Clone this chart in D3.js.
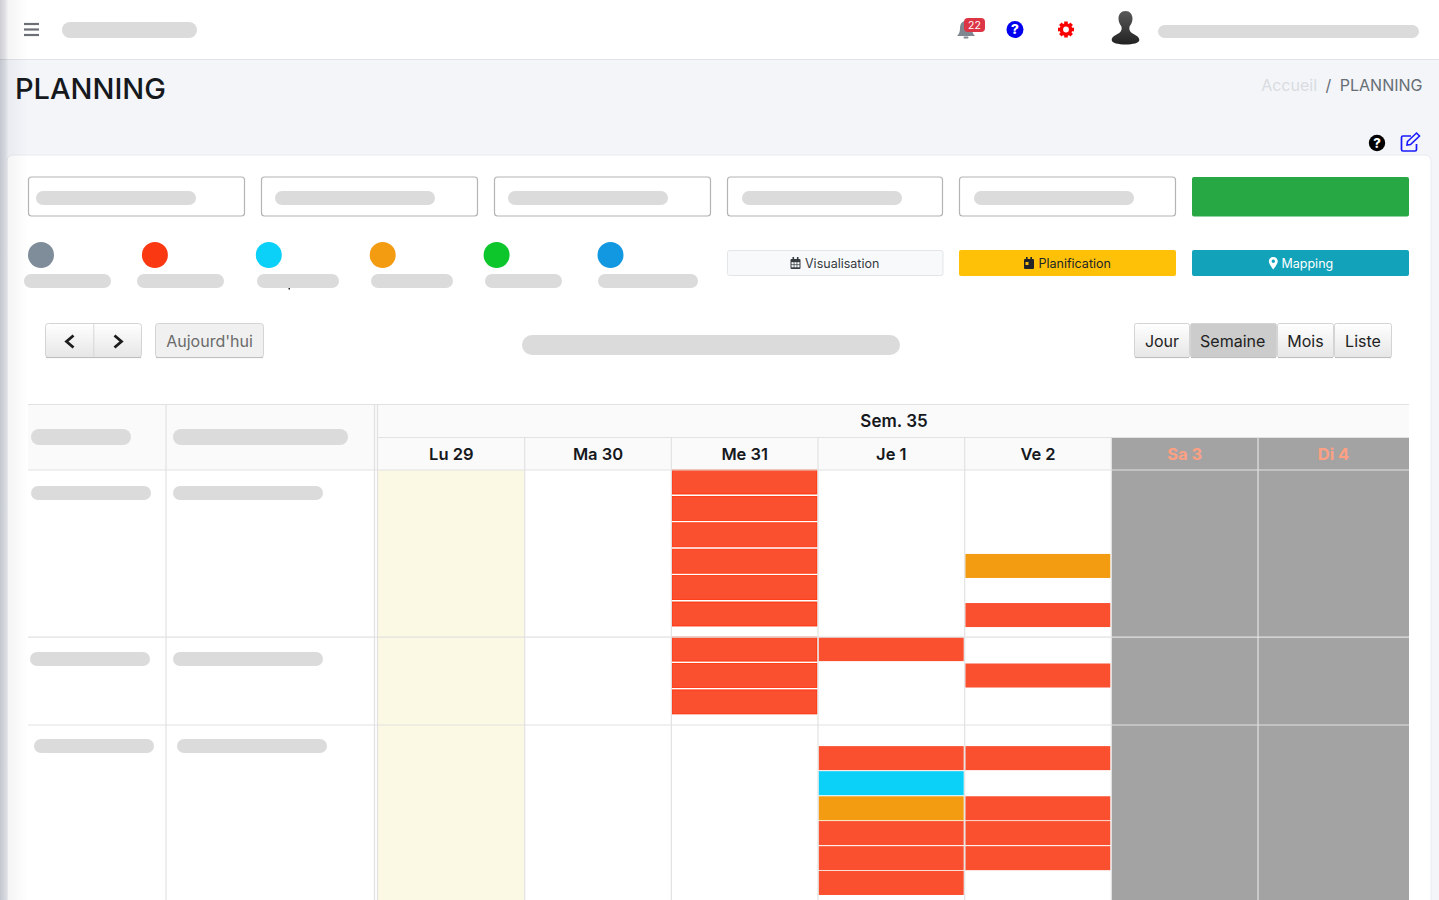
<!DOCTYPE html>
<html lang="fr">
<head>
<meta charset="utf-8">
<title>PLANNING</title>
<script src="https://cdn.jsdelivr.net/npm/d3@7"></script>
<style>
    html, body { margin: 0; padding: 0; background: #f3f5f9; overflow: hidden; }
    svg { display: block; }
    text { font-family: Inter, "Noto Sans", sans-serif; }
</style>
</head>
<body>
<div id="chart-container"></div>
<script>
// Planning data
const days = ['Lu 29', 'Ma 30', 'Me 31', 'Je 1', 'Ve 2', 'Sa 3', 'Di 4'];
const weekendDays = ['Sa 3', 'Di 4'];
const todayDay = 'Lu 29';
const weekLabel = 'Sem. 35';
const rowSizes = [6.33, 3.33, 6.63]; // row height, counted in event lines

const legendColors = ['#7f8c99', '#fa3812', '#0bd0f8', '#f39c12', '#0cc62c', '#1198e0'];
const viewLabels = ['Jour', 'Semaine', 'Mois', 'Liste'];

// [day, row, line]
const redEvents = [
    ['Me 31', 0, 0], ['Me 31', 0, 1], ['Me 31', 0, 2], ['Me 31', 0, 3], ['Me 31', 0, 4], ['Me 31', 0, 5],
    ['Ve 2', 0, 5.04],
    ['Me 31', 1, 0], ['Me 31', 1, 1], ['Me 31', 1, 2],
    ['Je 1', 1, 0], ['Ve 2', 1, 1],
    ['Je 1', 2, 0.8], ['Je 1', 2, 3.64], ['Je 1', 2, 4.59], ['Je 1', 2, 5.53],
    ['Ve 2', 2, 0.8], ['Ve 2', 2, 2.7], ['Ve 2', 2, 3.64], ['Ve 2', 2, 4.59]
];
const orangeEvents = [['Ve 2', 0, 3.18], ['Je 1', 2, 2.7]];
const cyanEvents = [['Je 1', 2, 1.75]];

const W = 1439, H = 900;
const svg = d3.select('#chart-container')
    .append('svg')
    .attr('width', W)
    .attr('height', H);
const defs = svg.append('defs');

// Gradients
function vGradient(id, top, bottom) {
    const g = defs.append('linearGradient').attr('id', id).attr('x2', 0).attr('y2', 1);
    g.append('stop').attr('offset', 0).attr('stop-color', top);
    g.append('stop').attr('offset', 1).attr('stop-color', bottom);
}
vGradient('btn', '#ffffff', '#e6e6e6');
vGradient('avatar', '#5a5a5a', '#222222');
const side = defs.append('linearGradient').attr('id', 'sideShadow');
[[0, 0.24], [0.2, 0.14], [0.3, 0.05], [1, 0]].forEach(s => {
    side.append('stop').attr('offset', s[0]).attr('stop-color', '#30344a').attr('stop-opacity', s[1]);
});

// Small helpers
const rect = (x, y, w, h, fill, r = 0) => svg.append('rect')
    .attr('x', x).attr('y', y).attr('width', w).attr('height', h)
    .attr('rx', r).attr('fill', fill);
const pill = (x0, x1, y0, y1) => rect(x0, y0, x1 - x0, y1 - y0, '#dbdbdb', (y1 - y0) / 2);
const label = (x, y, str, size, fill, anchor = 'middle', weight = 400) => svg.append('text')
    .attr('x', x).attr('y', y).attr('font-size', size).attr('fill', fill)
    .attr('text-anchor', anchor).attr('font-weight', weight).text(str);
const line = (x1, y1, x2, y2, color = '#e2e2e2', w = 1.2) => svg.append('line')
    .attr('x1', x1).attr('y1', y1).attr('x2', x2).attr('y2', y2)
    .attr('stroke', color).attr('stroke-width', w);

function questionIcon(cx, cy, r, color) {
    svg.append('circle').attr('cx', cx).attr('cy', cy).attr('r', r).attr('fill', color);
    label(cx, cy + r * 0.56, '?', r * 1.6, '#fff', 'middle', 800);
}

function gearIcon(cx, cy, color) {
    const g = svg.append('g').attr('transform', `translate(${cx},${cy})`);
    g.selectAll('line').data(d3.range(4)).enter().append('line')
        .attr('y1', -8).attr('y2', 8)
        .attr('stroke', color).attr('stroke-width', 3.6)
        .attr('transform', d => `rotate(${d * 45})`);
    g.append('circle').attr('r', 4.6).attr('fill', '#ffffff').attr('stroke', color).attr('stroke-width', 3.4);
}

function calendarIcon(x, y, color, light) {
    rect(x, y + 2, 10, 10, color, 1);
    rect(x + 2, y, 1.6, 3, color);
    rect(x + 6.4, y, 1.6, 3, color);
    if (light) rect(x + 1.5, y + 5, 3, 3, light);
    else {
        d3.range(3).forEach(i => d3.range(2).forEach(j => {
            rect(x + 1 + i * 2.9, y + 5.2 + j * 2.9, 2.2, 2.2, '#f8f9fa');
        }));
    }
}

// Top bar
rect(0, 0, W, 59, '#ffffff');
line(0, 59.5, W, 59.5, '#dfe2e6', 1);
[24, 29.5, 35].forEach(y => line(24, y, 39, y, '#6c6f75', 2.2));
pill(62, 197, 22, 38);

// Bell with badge
svg.append('path')
    .attr('d', 'M966 21c-4 0-6 3-6 7 0 4-1 6-3 8h18c-2-2-3-4-3-8 0-4-2-7-6-7z')
    .attr('fill', '#7f8790');
rect(963.5, 36.5, 5, 2, '#7f8790', 1);
rect(964, 18, 21, 14, '#dc3545', 4);
label(974.5, 29, '22', 10.5, '#ffffff');

questionIcon(1015, 29.5, 8.5, '#0000ee');
gearIcon(1066, 29.5, '#fb0000');

// Avatar bust
svg.append('path')
    .attr('d', 'M1125.500 11c-4.500 0-7 3.500-7 7.500 0 3 1.200 5.500 2.700 7.500 1 2.500 0.500 5-2 7-3.500 2-7.500 3.500-7.500 7 0 3 6.500 4.500 13.800 4.500s13.800-1.500 13.800-4.500c0-3.500-4-5-7.500-7-2.500-2-3-4.500-2-7 1.500-2 2.700-4.500 2.700-7.500 0-4-2.500-7.500-7-7.500z')
    .attr('fill', 'url(#avatar)');
pill(1158, 1419, 25, 38);

// Page title and breadcrumb
label(15, 99, 'PLANNING', 29, '#15181c', 'start', 500);
label(1317, 90.5, 'Accueil', 16, '#d9dce0', 'end');
label(1328.5, 91, '/', 16, '#666d75');
label(1422.5, 90.5, 'PLANNING', 16, '#666d75', 'end');

questionIcon(1377, 143, 8.2, '#000000');
svg.append('path')
    .attr('d', 'M1416.500 144v5.500a1.500 1.500 0 0 1-1.500 1.500h-12a1.500 1.500 0 0 1-1.500-1.500v-12a1.500 1.500 0 0 1 1.500-1.500h8')
    .attr('fill', 'none').attr('stroke', '#1a1aff').attr('stroke-width', 1.7);
svg.append('path')
    .attr('d', 'M1407.500 141.500l9-8.500 3 3-9 8.500-3.500 .5z')
    .attr('fill', 'none').attr('stroke', '#1a1aff').attr('stroke-width', 1.6);

// Main card
rect(7, 155, 1424, 760, '#ffffff', 6).attr('stroke', '#e9ebef').attr('stroke-width', 1);

// Filter boxes
[[28, 245, 36, 196], [261, 478, 275, 435], [494, 711, 508, 668], [727, 943, 742, 902], [959, 1176, 974, 1134]].forEach(b => {
    rect(b[0] + 0.5, 177, b[1] - b[0] - 1, 39, '#ffffff', 3).attr('stroke', '#b4b4b4').attr('stroke-width', 1.2);
    pill(b[2], b[3], 191, 205);
});
rect(1192, 177, 217, 39.5, '#28a745', 2);

// Legend
const legendX = d3.scalePoint()
    .domain(d3.range(legendColors.length))
    .range([41, 610.500]);
svg.append('g')
    .selectAll('circle')
    .data(legendColors)
    .enter()
    .append('circle')
    .attr('cx', (d, i) => legendX(i))
    .attr('cy', 255)
    .attr('r', 13)
    .attr('fill', d => d);
[[24, 111], [137, 224], [257, 339], [371, 453], [485, 562], [598, 698]].forEach(p => pill(p[0], p[1], 274, 288));
rect(288.500, 288, 1.500, 1.500, '#222222');

// View buttons
rect(727.5, 250.5, 215.5, 25, '#f8f9fa', 2).attr('stroke', '#e3e6e9').attr('stroke-width', 1);
calendarIcon(790.500, 257, '#343a40');
label(805, 268, 'Visualisation', 12.5, '#343a40', 'start');
rect(959, 250, 217, 26, '#ffc107', 2);
calendarIcon(1024, 257, '#212529', '#ffc107');
label(1038.500, 268, 'Planification', 12.5, '#212529', 'start');
rect(1192, 250, 217, 26, '#12a2b9', 2);
svg.append('path')
    .attr('d', 'M1273.300 257c-2.600 0-4.500 2-4.500 4.300 0 2.800 4.500 8.200 4.500 8.200s4.500-5.400 4.500-8.200c0-2.300-1.900-4.300-4.500-4.300zm0 6a1.700 1.700 0 1 1 0-3.400 1.700 1.700 0 0 1 0 3.400z')
    .attr('fill', '#ffffff');
label(1281.500, 268, 'Mapping', 12.5, '#ffffff', 'start');

// Calendar toolbar
function toolButton(x0, x1, fill = 'url(#btn)', r = 2) {
    const b = rect(x0 + 0.5, 323.5, x1 - x0 - 1, 34, fill, r)
        .attr('stroke', '#d4d4d4').attr('stroke-width', 1);
    line(x0 + 1, 357.6, x1 - 1, 357.6, '#bdbdbd', 1);
    return b;
}
toolButton(45, 142, 'url(#btn)', 3);
line(93.8, 324, 93.8, 357, '#d6d6d6', 1);
svg.append('path').attr('d', 'M73.500 335.500l-7 6 7 6').attr('fill', 'none').attr('stroke', '#1c1c1c').attr('stroke-width', 2.8);
svg.append('path').attr('d', 'M114.500 335.500l7 6-7 6').attr('fill', 'none').attr('stroke', '#1c1c1c').attr('stroke-width', 2.8);
toolButton(155, 264, '#f0f0f0', 3);
label(209.5, 347, "Aujourd'hui", 16, '#6a6a6a');
pill(522, 900, 335, 355);

const viewEdges = [1134, 1190, 1277, 1334, 1392];
viewLabels.forEach((v, i) => {
    const x0 = viewEdges[i], x1 = viewEdges[i + 1];
    toolButton(x0, x1, v === 'Semaine' ? '#cccccc' : 'url(#btn)', 2);
    label((x0 + x1) / 2 - (v === 'Semaine' ? 0.8 : 0), 347, v, 16, '#222222');
});

// Scales of the planning grid
const x = d3.scaleBand()
    .domain(days)
    .range([378, 1404.700]);
const gridRight = 1409;
const rowTops = [0, ...d3.cumsum(rowSizes)];
const y = d3.scaleLinear()
    .domain([0, d3.sum(rowSizes)])
    .range([470, H]);

// Table header background
rect(28, 404, gridRight - 28, 66, '#fafafa');

// Today and weekend columns
const lastDay = days[days.length - 1];
const colRight = d => (d === lastDay ? gridRight : x(d) + x.bandwidth());
svg.append('g')
    .selectAll('rect')
    .data([todayDay])
    .enter()
    .append('rect')
    .attr('x', d => x(d))
    .attr('y', y(0))
    .attr('width', x.bandwidth())
    .attr('height', H - y(0))
    .attr('fill', '#fbf8e3');
svg.append('g')
    .selectAll('rect')
    .data(weekendDays)
    .enter()
    .append('rect')
    .attr('x', d => x(d))
    .attr('y', 437)
    .attr('width', d => colRight(d) - x(d))
    .attr('height', H - 437)
    .attr('fill', '#a3a3a3');

// Events
function drawEvents(events, fill) {
    svg.append('g')
        .selectAll('rect')
        .data(events)
        .enter()
        .append('rect')
        .attr('x', d => x(d[0]) + 0.6)
        .attr('y', d => y(rowTops[d[1]] + d[2]))
        .attr('width', x.bandwidth() - 1.6)
        .attr('height', y(0.91) - y(0))
        .attr('fill', fill)
        .attr('stroke', d => (d[0] === 'Me 31' ? '#ff2a00' : 'none'))
        .attr('stroke-width', 0.8);
}
drawEvents(redEvents, '#fa5030');
drawEvents(orangeEvents, '#f39c12');
drawEvents(cyanEvents, '#0bd0f8');

// Grid lines
line(28, 404.5, gridRight, 404.5);
line(378, 437.5, gridRight, 437.5);
line(28, 470, gridRight, 470);
rowTops.slice(1, rowSizes.length).forEach(r => line(28, y(r), gridRight, y(r)));
line(166, 404, 166, H);
line(374.500, 404, 374.500, H);
line(377.500, 404, 377.500, H);
days.slice(1).forEach(d => {
    line(x(d), 437, x(d), H);
});

// Day labels, week label
const dayAxis = svg.append('g')
    .attr('transform', 'translate(0,459.500)')
    .call(d3.axisTop(x).tickSize(0).tickPadding(0));
dayAxis.select('.domain').remove();
dayAxis.selectAll('text')
    .attr('font-family', 'Inter, sans-serif')
    .attr('font-size', 16.500)
    .attr('font-weight', d => (weekendDays.includes(d) ? 700 : 600))
    .attr('dy', 0)
    .attr('dx', d => (d === lastDay ? (gridRight - x(d) - x.bandwidth()) / 2 : 0))
    .attr('fill', d => (weekendDays.includes(d) ? '#ffa083' : '#15181c'));
label(894, 426.500, weekLabel, 17, '#15181c', 'middle', 600);

// Masked text of the left columns
pill(31, 131, 429, 445);
pill(173, 348, 429, 445);
pill(31, 151, 486, 500);
pill(173, 323, 486, 500);
pill(30, 150, 652, 666);
pill(173, 323, 652, 666);
pill(34, 154, 739, 753);
pill(177, 327, 739, 753);

// Shadow of the collapsed side menu
rect(0, 0, 28, H, 'url(#sideShadow)');
</script>
</body>
</html>
